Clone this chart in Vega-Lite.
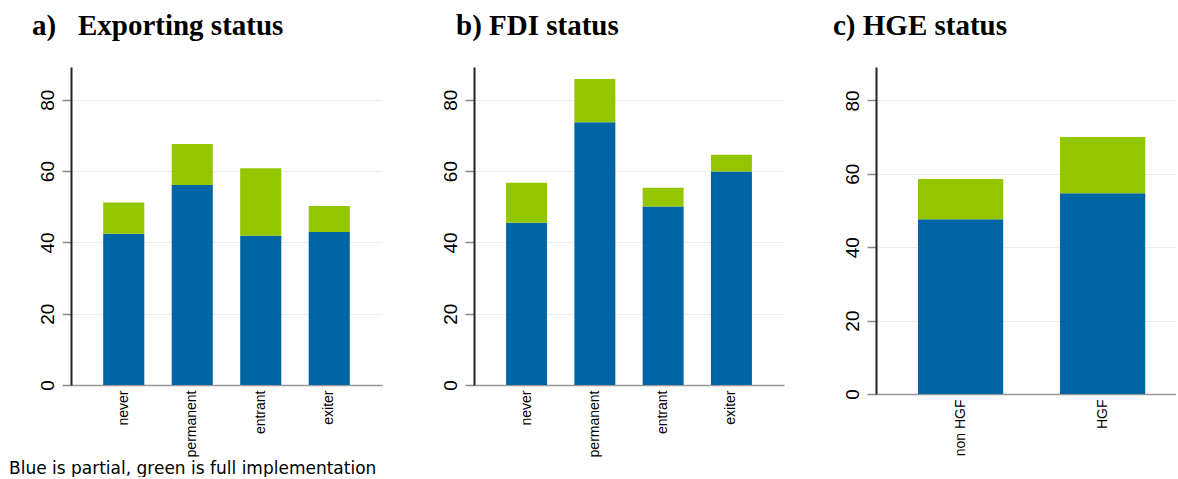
{
  "$schema": "https://vega.github.io/schema/vega-lite/v6.json",
  "background": "white",
  "autosize": {"type": "pad"},
  "padding": {"left": 9, "top": 12, "right": 0, "bottom": 0},
  "spacing": 92,
  "bounds": "flush",
  "data": {"values": [
    {"panel": "a", "cat": "never", "type": "partial", "value": 42.4},
    {"panel": "a", "cat": "never", "type": "full", "value": 8.8},
    {"panel": "a", "cat": "permanent", "type": "partial", "value": 56.1},
    {"panel": "a", "cat": "permanent", "type": "full", "value": 11.5},
    {"panel": "a", "cat": "entrant", "type": "partial", "value": 41.9},
    {"panel": "a", "cat": "entrant", "type": "full", "value": 18.9},
    {"panel": "a", "cat": "exiter", "type": "partial", "value": 42.9},
    {"panel": "a", "cat": "exiter", "type": "full", "value": 7.3},
    {"panel": "b", "cat": "never", "type": "partial", "value": 45.5},
    {"panel": "b", "cat": "never", "type": "full", "value": 11.2},
    {"panel": "b", "cat": "permanent", "type": "partial", "value": 73.7},
    {"panel": "b", "cat": "permanent", "type": "full", "value": 12.1},
    {"panel": "b", "cat": "entrant", "type": "partial", "value": 50.1},
    {"panel": "b", "cat": "entrant", "type": "full", "value": 5.2},
    {"panel": "b", "cat": "exiter", "type": "partial", "value": 59.9},
    {"panel": "b", "cat": "exiter", "type": "full", "value": 4.7},
    {"panel": "c", "cat": "non HGF", "type": "partial", "value": 47.6},
    {"panel": "c", "cat": "non HGF", "type": "full", "value": 11.0},
    {"panel": "c", "cat": "HGF", "type": "partial", "value": 54.7},
    {"panel": "c", "cat": "HGF", "type": "full", "value": 15.3}
  ]},
  "title": {
    "text": "Blue is partial, green is full implementation",
    "orient": "bottom", "anchor": "start", "frame": "bounds",
    "font": "DejaVu Sans", "fontSize": 17, "fontWeight": "normal", "color": "#000",
    "offset": 4, "dx": -23
  },
  "resolve": {"scale": {"x": "independent", "y": "independent", "color": "shared"}},
  "hconcat": [
    {
      "width": 311, "height": 318,
      "title": {"text": "a)\u00a0\u00a0\u00a0Exporting status", "frame": "group", "dx": -39},
      "transform": [{"filter": "datum.panel == 'a'"}],
      "mark": {"type": "bar"},
      "encoding": {
        "x": {"field": "cat", "type": "nominal", "sort": ["never", "permanent", "entrant", "exiter"],
              "scale": {"paddingInner": 0.4, "paddingOuter": 0.47}},
        "y": {"field": "value", "type": "quantitative", "stack": "zero",
              "scale": {"domain": [0, 89.2], "nice": false}, "axis": {"values": [0, 20, 40, 60, 80]}},
        "color": {"field": "type", "type": "nominal", "scale": {"domain": ["partial", "full"], "range": ["#0065a4", "#94c600"]}, "legend": null},
        "order": {"field": "type", "sort": "descending"}
      }
    },
    {
      "width": 310, "height": 318,
      "title": {"text": "b) FDI status", "frame": "group", "dx": -18},
      "transform": [{"filter": "datum.panel == 'b'"}],
      "mark": {"type": "bar"},
      "encoding": {
        "x": {"field": "cat", "type": "nominal", "sort": ["never", "permanent", "entrant", "exiter"],
              "scale": {"paddingInner": 0.4, "paddingOuter": 0.47}},
        "y": {"field": "value", "type": "quantitative", "stack": "zero",
              "scale": {"domain": [0, 89.2], "nice": false}, "axis": {"values": [0, 20, 40, 60, 80]}},
        "color": {"field": "type", "type": "nominal", "scale": {"domain": ["partial", "full"], "range": ["#0065a4", "#94c600"]}, "legend": null},
        "order": {"field": "type", "sort": "descending"}
      }
    },
    {
      "width": 300, "height": 327,
      "title": {"text": "c) HGE status", "frame": "group", "dx": -43},
      "transform": [{"filter": "datum.panel == 'c'"}],
      "mark": {"type": "bar"},
      "encoding": {
        "x": {"field": "cat", "type": "nominal", "sort": ["non HGF", "HGF"],
              "scale": {"paddingInner": 0.4, "paddingOuter": 0.256, "align": 0.577}},
        "y": {"field": "value", "type": "quantitative", "stack": "zero",
              "scale": {"domain": [0, 89.1], "nice": false}, "axis": {"values": [0, 20, 40, 60, 80]}},
        "color": {"field": "type", "type": "nominal", "scale": {"domain": ["partial", "full"], "range": ["#0065a4", "#94c600"]}, "legend": null},
        "order": {"field": "type", "sort": "descending"}
      }
    }
  ],
  "config": {
    "view": {"stroke": null},
    "title": {"font": "Liberation Serif", "fontSize": 29, "fontWeight": "bold", "color": "#000", "anchor": "start", "offset": 26},
    "axisX": {
      "title": null, "labelAngle": -90, "labelFont": "Liberation Sans", "labelFontSize": 14, "labelColor": "#000",
      "ticks": false, "labelPadding": 5, "domainColor": "#999", "domainWidth": 1.5, "grid": false
    },
    "axisY": {
      "title": null, "labelAngle": -90, "labelAlign": "center", "labelBaseline": "bottom",
      "labelFont": "Liberation Sans", "labelFontSize": 19, "labelColor": "#000", "labelPadding": 5,
      "tickSize": 9, "tickColor": "#888", "tickWidth": 1.5, "domainColor": "#222", "domainWidth": 2,
      "grid": true, "gridColor": "#e6eeee", "gridWidth": 1
    }
  }
}
